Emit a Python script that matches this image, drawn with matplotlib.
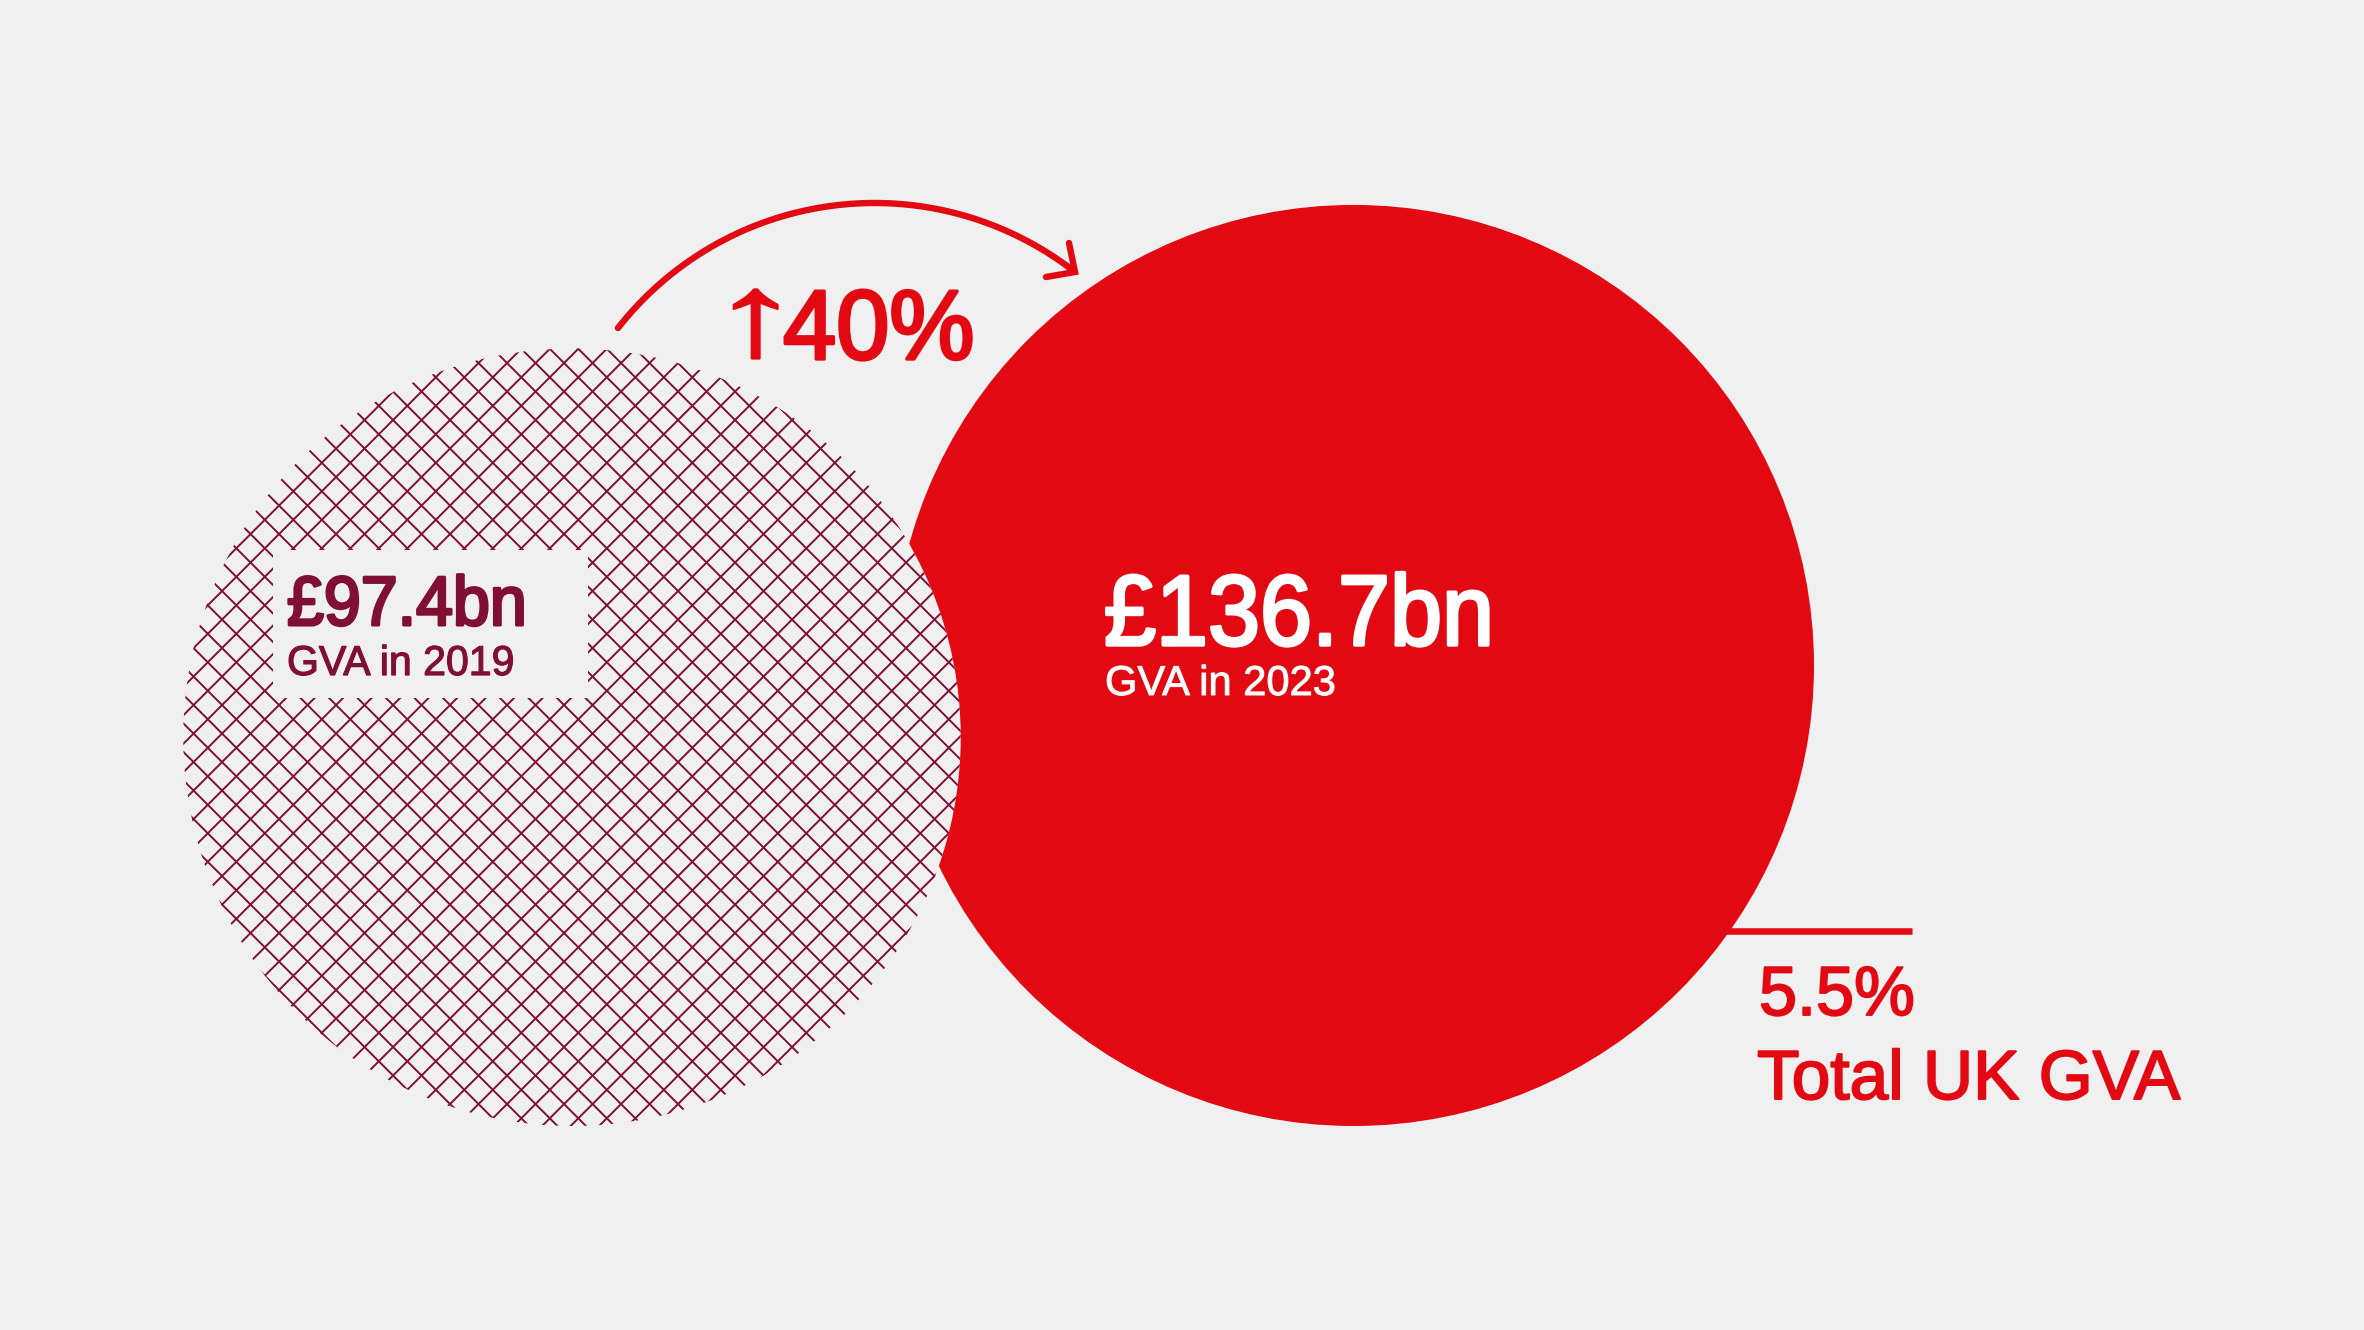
import numpy as np
import matplotlib
matplotlib.use("Agg")
import matplotlib.pyplot as plt
from matplotlib.patches import Circle, Rectangle
from matplotlib.collections import LineCollection
from matplotlib.patheffects import AbstractPathEffect
from matplotlib.transforms import Affine2D

# values
years = [2019, 2023]
gva_bn = [97.4, 136.7]
value_labels = ["£97.4bn", "£136.7bn"]
year_labels = ["GVA in 2019", "GVA in 2023"]
growth_label = "40%"
share_label = "5.5%"
share_name = "Total UK GVA"

BG = "#f0f0f0"
RED = "#e30913"
DARK = "#7f0f33"
FONT = "Liberation Sans"

W, H = 2364, 1330
fig = plt.figure(figsize=(W / 100, H / 100), dpi=100, facecolor=BG)
ax = fig.add_axes([0, 0, 1, 1])
ax.set_xlim(0, W)
ax.set_ylim(H, 0)
ax.axis("off")

##Circle areas are proportional to GVA
scale = 39.39
r_old = scale * np.sqrt(gva_bn[0])
r_new = scale * np.sqrt(gva_bn[1])
c_old = (572, 1126 - r_old)
c_new = (1814 - r_new, 1126 - r_new)

ax.add_patch(Circle(c_new, r_new, fc=RED, ec="none", zorder=1))
ax.add_patch(Circle(c_old, r_old, fc=BG, ec="none", zorder=2))

##Crosshatch, clipped to the 2019 circle
step = 28.5
segs = []
for k in range(-40, 40):
    a = -255 + k * step
    segs.append([(0, -a), (W, W - a)])
    b = 841.6 + k * step
    segs.append([(0, b), (W, b - W)])
hatch = LineCollection(segs, colors=DARK, linewidths=1.4, zorder=3)
ax.add_collection(hatch)
hatch.set_clip_path(Circle(c_old, r_old, transform=ax.transData))

##Label box cut out of the hatching
ax.add_patch(Rectangle((273, 550), 315, 148, fc=BG, ec="none", zorder=4))


##The reference type is tightly set, so squeeze the glyphs around the text origin
class Squeeze(AbstractPathEffect):
    def __init__(self, x0, sx, weight, color):
        super().__init__()
        self.x0, self.sx, self.weight, self.color = x0, sx, weight, color

    def draw_path(self, renderer, gc, tpath, affine, rgbFace):
        aff = affine + Affine2D().translate(-self.x0, 0).scale(self.sx, 1).translate(self.x0, 0)
        if self.weight > 0:
            gc0 = renderer.new_gc()
            gc0.copy_properties(gc)
            gc0.set_linewidth(self.weight)
            gc0.set_foreground(self.color)
            renderer.draw_path(gc0, tpath, aff, rgbFace)
            gc0.restore()
        else:
            renderer.draw_path(gc, tpath, aff, rgbFace)


def label(x, y, s, size, color, sx=1.0, weight=0.0):
    t = ax.text(x, y, s, fontsize=size, color=color, family=FONT, ha="left",
                va="baseline", zorder=6)
    x0 = ax.transData.transform((x, y))[0]
    t.set_path_effects([Squeeze(x0, sx, weight, color)])
    return t


label(287, 625, value_labels[0], 50, DARK, 0.955, 2.2)
label(287, 675, year_labels[0], 30, DARK, 0.985, 0.9)
label(1104, 645, value_labels[1], 72, "white", 0.935, 2.4)
label(1105, 695, year_labels[1], 30, "white", 1.0, 0.7)

##Growth arc, circle through start, top and tip
p1, p2, p3 = np.array([618, 328.0]), np.array([873, 203.0]), np.array([1075, 272.0])
A = 2 * np.array([p2 - p1, p3 - p1])
rhs = np.array([p2 @ p2 - p1 @ p1, p3 @ p3 - p1 @ p1])
centre = np.linalg.solve(A, rhs)
rad = np.linalg.norm(p1 - centre)
ang1 = np.degrees(np.arctan2(*(p1 - centre)[::-1]))
ang3 = np.degrees(np.arctan2(*(p3 - centre)[::-1]))
arc_t = np.radians(np.linspace(ang1 if ang1 < 0 else ang1 - 360, ang3, 200))
ax.plot(centre[0] + rad * np.cos(arc_t), centre[1] + rad * np.sin(arc_t),
        color=RED, lw=4.6, solid_capstyle="round", zorder=5)
ax.plot([1069, 1075, 1046], [243, 272, 277], color=RED, lw=4.6,
        solid_capstyle="round", solid_joinstyle="miter", zorder=5)

label(709, 355, "↑", 84, RED, 1.6, 1.6)
label(783, 359, growth_label, 71, RED, 0.97, 2.4)

##Share of total
ax.plot([1700, 1912], [931, 931], color=RED, lw=4.7, solid_capstyle="butt", zorder=0.5)
label(1759, 1015, share_label, 50, RED, 0.985, 1.4)
label(1757, 1099, share_name, 50, RED, 1.0, 1.4)

fig.savefig("out.png", dpi=100, facecolor=BG)
